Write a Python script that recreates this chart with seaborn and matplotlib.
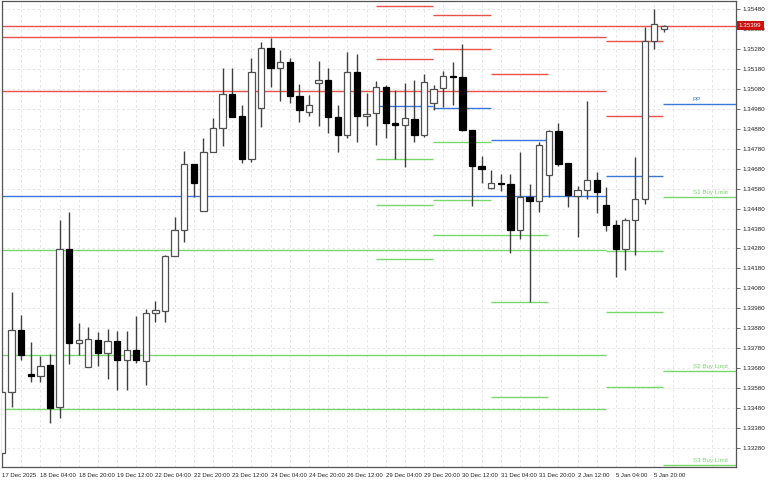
import matplotlib
matplotlib.use('Agg')
import matplotlib.pyplot as plt
import matplotlib.transforms as mtransforms
import numpy as np
import seaborn as sns

# GBP/USD-style H4 candles, oldest first
opens = [1.33253, 1.33558, 1.33869, 1.33650, 1.33641, 1.33695, 1.33483, 1.34276, 1.33807, 1.33686,
         1.33819, 1.33754, 1.33814, 1.33719, 1.33770, 1.33717, 1.33954, 1.33968, 1.34240, 1.34372,
         1.34704, 1.34466, 1.34764, 1.34883, 1.35053, 1.34945, 1.34727, 1.34983, 1.35287, 1.35185,
         1.35216, 1.35043, 1.34963, 1.35110, 1.35124, 1.34940, 1.34848, 1.35165, 1.34945, 1.34958,
         1.35089, 1.34908, 1.34898, 1.34931, 1.34851, 1.35008, 1.35084, 1.35147, 1.35140, 1.34873,
         1.34692, 1.34585, 1.34608, 1.34602, 1.34372, 1.34538, 1.34517, 1.34649, 1.34869, 1.34707,
         1.34545, 1.34572, 1.34622, 1.34499, 1.34396, 1.34276, 1.34421, 1.34530, 1.35319, 1.35380]
highs = [1.33560, 1.34063, 1.33946, 1.33809, 1.33740, 1.33750, 1.34423, 1.34463, 1.33907, 1.33884,
         1.33859, 1.33874, 1.33864, 1.33864, 1.33941, 1.33975, 1.34016, 1.34245, 1.34439, 1.34770,
         1.34704, 1.34833, 1.34935, 1.35184, 1.35187, 1.35000, 1.35237, 1.35314, 1.35337, 1.35276,
         1.35234, 1.35105, 1.35050, 1.35222, 1.35187, 1.35000, 1.35267, 1.35256, 1.35060, 1.35120,
         1.35100, 1.35075, 1.35109, 1.35125, 1.35155, 1.35100, 1.35170, 1.35214, 1.35307, 1.34876,
         1.34744, 1.34672, 1.34653, 1.34652, 1.34762, 1.34602, 1.34814, 1.34875, 1.34908, 1.34707,
         1.34593, 1.35021, 1.34665, 1.34587, 1.34423, 1.34431, 1.34740, 1.35393, 1.35480, 1.35401]
lows = [1.33253, 1.33483, 1.33720, 1.33611, 1.33611, 1.33405, 1.33431, 1.33700, 1.33745, 1.33686,
        1.33692, 1.33625, 1.33570, 1.33570, 1.33704, 1.33595, 1.33912, 1.33911, 1.34240, 1.34311,
        1.34537, 1.34466, 1.34764, 1.34794, 1.34941, 1.34707, 1.34715, 1.34891, 1.35092, 1.35021,
        1.35008, 1.34916, 1.34945, 1.34896, 1.34861, 1.34765, 1.34833, 1.34816, 1.34896, 1.34798,
        1.34833, 1.34729, 1.34690, 1.34813, 1.34841, 1.34973, 1.34991, 1.35001, 1.34868, 1.34493,
        1.34607, 1.34580, 1.34570, 1.34256, 1.34326, 1.34013, 1.34464, 1.34537, 1.34695, 1.34489,
        1.34339, 1.34530, 1.34456, 1.34369, 1.34135, 1.34172, 1.34246, 1.34501, 1.35282, 1.35368]
closes = [1.33560, 1.33869, 1.33745, 1.33640, 1.33692, 1.33481, 1.34276, 1.33807, 1.33820, 1.33824,
          1.33755, 1.33817, 1.33720, 1.33769, 1.33720, 1.33954, 1.33970, 1.34242, 1.34372, 1.34704,
          1.34610, 1.34764, 1.34883, 1.35053, 1.34941, 1.34727, 1.35164, 1.35284, 1.35185, 1.35216,
          1.35045, 1.34973, 1.34998, 1.35124, 1.34938, 1.34848, 1.35164, 1.34945, 1.34956, 1.35089,
          1.34909, 1.34901, 1.34933, 1.34851, 1.35114, 1.35082, 1.35144, 1.35140, 1.34873, 1.34695,
          1.34677, 1.34608, 1.34605, 1.34372, 1.34538, 1.34518, 1.34798, 1.34869, 1.34705, 1.34548,
          1.34572, 1.34622, 1.34565, 1.34396, 1.34276, 1.34421, 1.34527, 1.35321, 1.35405, 1.35399]

bid = 1.35399

time_labels = ['17 Dec 2025', '18 Dec 04:00', '18 Dec 20:00', '19 Dec 12:00', '22 Dec 04:00',
               '22 Dec 20:00', '23 Dec 12:00', '24 Dec 04:00', '24 Dec 20:00', '26 Dec 12:00',
               '29 Dec 04:00', '29 Dec 20:00', '30 Dec 12:00', '31 Dec 04:00', '31 Dec 20:00',
               '2 Jan 12:00', '5 Jan 04:00', '5 Jan 20:00']

# daily pivot levels, each drawn over the bars of its day
pivot_first_bar = [39, 45, 51, 0, 63, 69]
pivot_end_bar = [45, 51, 57, 63, 69, 77]
r2 = [1.35497, 1.35450, np.nan, 1.35339, 1.35319, np.nan]
r1 = [1.35229, 1.35282, 1.35155, 1.35068, 1.34943, np.nan]
pp = [1.34996, 1.34983, 1.34824, 1.34542, 1.34644, 1.35005]
s1 = [1.34727, 1.34816, 1.34346, 1.34272, 1.34266, 1.34537]
s2 = [1.34496, 1.34522, 1.34011, 1.33744, 1.33960, 1.33665]
s3 = [1.34228, 1.34349, 1.33533, 1.33474, 1.33583, 1.33193]

RED = '#e8524a'
BLUE = '#3a78e0'
GREEN = '#79d86c'

sns.set_style('white')
plt.rcParams['font.family'] = ['Liberation Sans', 'DejaVu Sans']

fig = plt.figure(figsize=(7.68, 4.8), dpi=100)
ax = fig.add_axes([2 / 768, 13 / 480, 734 / 768, 466 / 480])

# pivot segments
for levels, col in [(r2, RED), (r1, RED), (pp, BLUE), (s1, GREEN), (s2, GREEN), (s3, GREEN)]:
    for a, b, v in zip(pivot_first_bar, pivot_end_bar, levels):
        if not np.isnan(v):
            ax.hlines(v, a - 0.05, b - 0.05, color=col, linewidth=1.0, zorder=2)

# bid line
ax.axhline(bid, color=RED, linewidth=1.0, zorder=2)

# candles
o, h, l, c = map(np.array, (opens, highs, lows, closes))
x = np.arange(len(o))
up = c >= o
body_lo = np.minimum(o, c)
body_h = np.maximum(np.abs(c - o), 0.00004)
ax.vlines(x, l, h, color='#404040', linewidth=1.0, zorder=3)
ax.bar(x[up], body_h[up], bottom=body_lo[up], width=0.66, color='white',
       edgecolor='#505050', linewidth=0.9, zorder=4)
ax.bar(x[~up], body_h[~up], bottom=body_lo[~up], width=0.66, color='black',
       edgecolor='black', linewidth=0.9, zorder=4)

# labels for today's pivots
ax.annotate('PP', (72, pp[-1]), xytext=(0, 1.5), textcoords='offset points',
            color=BLUE, fontsize=4.5, va='bottom', ha='left', zorder=6)
for name, lv in [('S1 Buy Limit', s1[-1]), ('S2 Buy Limit', s2[-1]), ('S3 Buy Limit', s3[-1])]:
    ax.annotate(name, (72, lv), xytext=(0, 1.5), textcoords='offset points',
                color=GREEN, fontsize=4.5, va='bottom', ha='left', zorder=6)

ax.set_xlim(0.06, 76.52)
ax.set_ylim(1.33183, 1.35522)

# axes, ticks, grid
ax.set_xticks(np.arange(0, len(time_labels) * 4, 4))
ax.set_xticklabels(time_labels, ha='left', fontsize=4.3, color='#222222')
ax.set_xticks(np.arange(2, 77, 4), minor=True)
ax.tick_params(axis='x', which='major', length=3, width=0.6, color='#555555', pad=1.5)
ax.tick_params(axis='x', which='minor', length=0)

ax.yaxis.tick_right()
yt = np.round(np.arange(1.3328, 1.3549, 0.001), 5)
ax.set_yticks(yt)
ax.set_yticklabels(['{:.5f}'.format(v) for v in yt], fontsize=4.5, color='#222222')
ax.tick_params(axis='y', length=3, width=0.6, color='#555555', pad=1.5)

ax.grid(True, which='both', axis='x', color='#e2e2e2', linestyle=(0, (3, 3)), linewidth=0.6)
ax.grid(True, which='major', axis='y', color='#e2e2e2', linestyle=(0, (3, 3)), linewidth=0.6)
ax.set_axisbelow(True)

for sp in ax.spines.values():
    sp.set_visible(True)
    sp.set_color('#555555')
    sp.set_linewidth(0.9)

# current price box on the price scale
trans = mtransforms.blended_transform_factory(ax.transAxes, ax.transData)
ax.text(1.004, bid, '{:.5f}'.format(bid), transform=trans, fontsize=4.5, color='white',
        va='center', ha='left', clip_on=False, zorder=10,
        bbox=dict(facecolor='#cc1111', edgecolor='none', boxstyle='square,pad=0.35'))

fig.savefig('out.png', dpi=100)
